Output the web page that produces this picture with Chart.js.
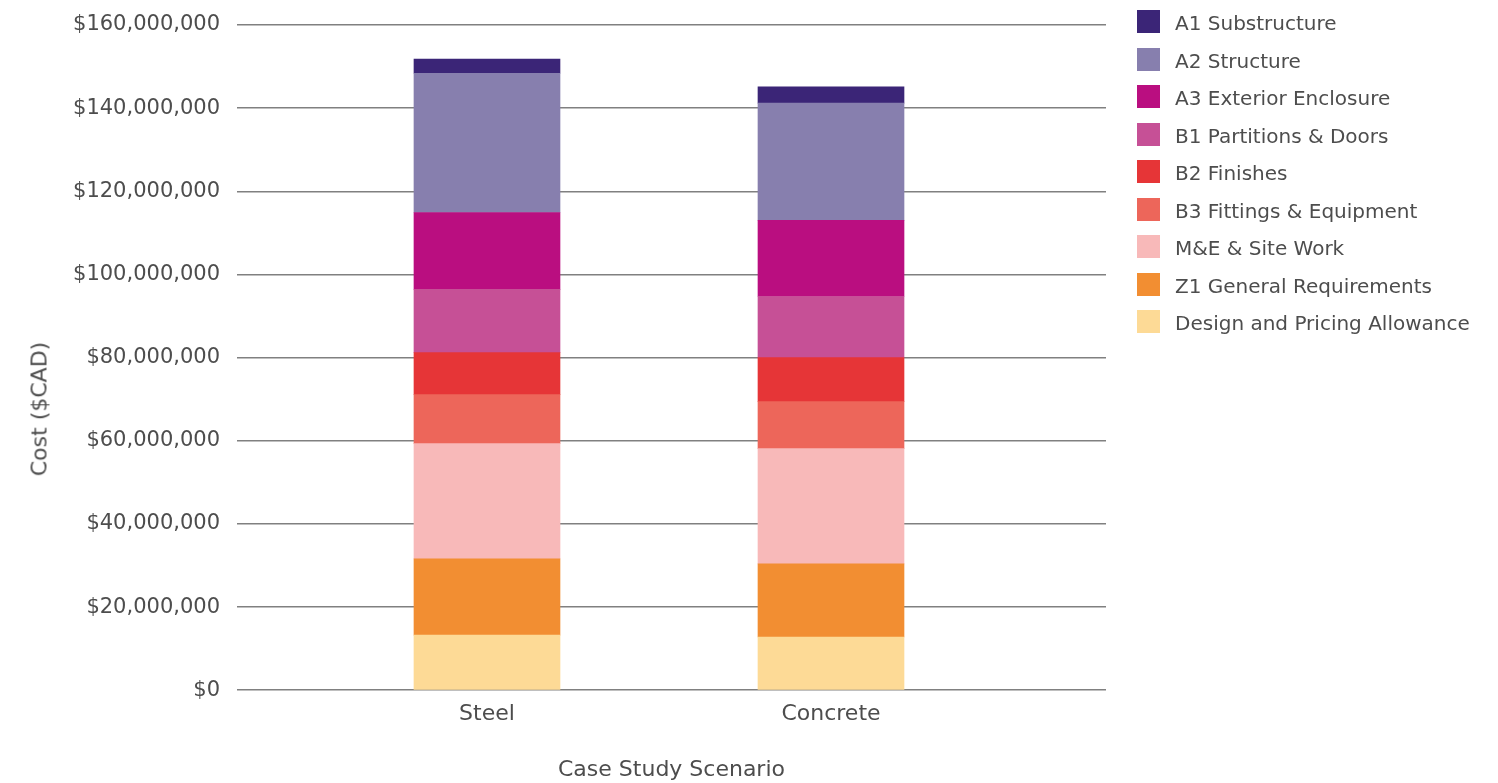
<!DOCTYPE html>
<html>
<head>
<meta charset="utf-8">
<title>Cost by Case Study Scenario</title>
<script src="https://cdn.jsdelivr.net/npm/chart.js@4.4.1/dist/chart.umd.min.js"></script>
<style>
  html, body { margin: 0; padding: 0; background: #ffffff; }
  #wrap { position: relative; width: 1498px; height: 783px; font-family: 'DejaVu Sans', sans-serif; color: #4d4d4d; }
  #cost-chart { position: absolute; left: 0; top: 0; }
  #legend { position: absolute; left: 1137px; top: 10px; margin: 0; padding: 0; list-style: none; }
  #legend li { display: flex; align-items: center; height: 23px; margin-bottom: 14.5px; font-size: 20px; line-height: 23px; white-space: nowrap; }
  #legend .swatch { width: 23px; height: 23px; margin-right: 15px; flex: none; }
  #legend .name { position: relative; top: 2px; }
  #y-title { position: absolute; left: 39px; top: 409px; transform: translate(-50%, -50%) rotate(-90deg); font-size: 22px; white-space: nowrap; }
</style>
</head>
<body>
<div id="wrap">
  <canvas id="cost-chart" width="1498" height="783"></canvas>
  <div id="y-title">Cost ($CAD)</div>
  <ul id="legend"></ul>
</div>
<script>
// Scenarios on the x axis
const categories = ['Steel', 'Concrete'];

// Cost per element group, $CAD (Steel, Concrete)
const designPricingAllowance = [13250000, 12800000];
const z1GeneralRequirements  = [18350000, 17600000];
const meSiteWork             = [27700000, 27700000];
const b3FittingsEquipment    = [11800000, 11300000];
const b2Finishes             = [10100000, 10600000];
const b1PartitionsDoors      = [15200000, 14700000];
const a3ExteriorEnclosure    = [18500000, 18300000];
const a2Structure            = [33500000, 28200000];
const a1Substructure         = [3400000, 3900000];

// Stack order, bottom to top
const seriesNames = [
  'Design and Pricing Allowance',
  'Z1 General Requirements',
  'M&E & Site Work',
  'B3 Fittings & Equipment',
  'B2 Finishes',
  'B1 Partitions & Doors',
  'A3 Exterior Enclosure',
  'A2 Structure',
  'A1 Substructure'
];
const seriesValues = [
  designPricingAllowance,
  z1GeneralRequirements,
  meSiteWork,
  b3FittingsEquipment,
  b2Finishes,
  b1PartitionsDoors,
  a3ExteriorEnclosure,
  a2Structure,
  a1Substructure
];

// y axis ticks
const yTickMin = 0;
const yTickMax = 160000000;
const yTickStep = 20000000;

const palette = ['#fdda96', '#f28e32', '#f8b9b9', '#ed665a', '#e63537', '#c65096', '#ba0e80', '#877fae', '#3b2577'];

const FONT = "'DejaVu Sans', sans-serif";
const TEXT = '#4d4d4d';

const datasets = seriesNames.map((name, s) => ({
  label: name,
  data: seriesValues[s].map((v, i) => ({ x: i, y: v })),
  backgroundColor: palette[s],
  borderWidth: 0,
  barThickness: 146
}));

const chart = new Chart(document.getElementById('cost-chart'), {
  type: 'bar',
  data: { datasets },
  options: {
    responsive: false,
    animation: false,
    layout: { padding: { top: 25, right: 392, bottom: 0, left: 0 } },
    plugins: {
      legend: { display: false },
      tooltip: { enabled: false }
    },
    scales: {
      x: {
        type: 'linear',
        stacked: true,
        offset: false,
        min: -0.7267,
        max: 1.7994,
        grid: { display: false, drawTicks: false },
        border: { display: false },
        afterBuildTicks: scale => { scale.ticks = categories.map((_, i) => ({ value: i })); },
        ticks: {
          padding: 11,
          color: TEXT,
          font: { family: FONT, size: 22 },
          callback: v => categories[v]
        },
        title: {
          display: true,
          text: 'Case Study Scenario',
          color: TEXT,
          font: { family: FONT, size: 22 },
          padding: { top: 18, bottom: 0 }
        }
      },
      y: {
        stacked: true,
        min: yTickMin,
        max: yTickMax,
        afterFit: scale => { scale.width = 237; scale.paddingTop = 0; },
        grid: { color: '#808080', lineWidth: 1.5, drawTicks: false },
        border: { display: false },
        ticks: {
          stepSize: yTickStep,
          padding: 17,
          color: TEXT,
          font: { family: FONT, size: 21 },
          callback: v => '$' + Number(v).toLocaleString('en-US')
        }
      }
    }
  }
});

// Legend, top of the stack first
const legendEl = document.getElementById('legend');
seriesNames.slice().reverse().forEach((name, k) => {
  const s = seriesNames.length - 1 - k;
  const li = document.createElement('li');
  const sw = document.createElement('span');
  sw.className = 'swatch';
  sw.style.background = palette[s];
  const label = document.createElement('span');
  label.className = 'name';
  label.textContent = name;
  li.appendChild(sw);
  li.appendChild(label);
  legendEl.appendChild(li);
});
</script>
</body>
</html>
